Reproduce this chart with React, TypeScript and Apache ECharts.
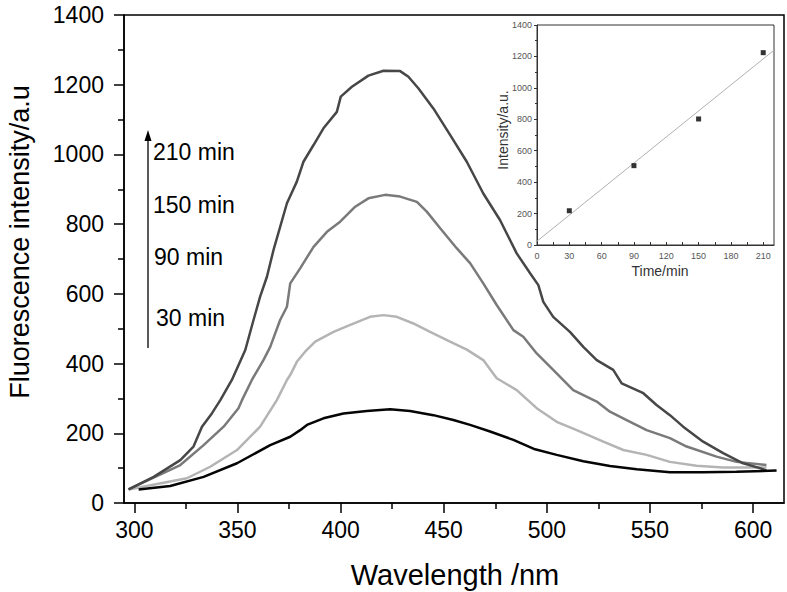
import React, { useEffect, useRef } from "react";
import * as echarts from "echarts";

const FONT = "'Liberation Sans', Arial, Helvetica, sans-serif";

// Main spectra (wavelength nm, intensity a.u.)
const x210 = [297.2, 309.4, 322.3, 328.7, 332.8, 337.6, 341.7, 347.3, 353.8, 357.8, 361.0, 364.3, 367.5, 374.0, 378.8, 382.0, 386.9, 391.7, 398.2, 400.1, 405.5, 413.5, 420.8, 428.9, 432.9, 437.7, 445.0, 453.1, 461.2, 469.2, 477.3, 485.4, 491.9, 495.9, 498.3, 503.1, 511.2, 517.7, 524.2, 532.2, 536.3, 546.8, 553.2, 559.7, 566.1, 575.8, 585.5, 595.2, 603.3, 606.5];
const y210 = [39, 75, 123, 162, 219, 257, 295, 353, 439, 525, 592, 649, 726, 860, 922, 979, 1027, 1075, 1122, 1166, 1194, 1226, 1240, 1239, 1223, 1190, 1132, 1056, 979, 888, 812, 716, 659, 625, 577, 534, 491, 448, 410, 382, 343, 315, 281, 252, 219, 176, 143, 114, 100, 93];

const x150 = [297.2, 322.3, 333.6, 343.3, 350.5, 352.2, 357.0, 362.6, 365.9, 370.7, 374.0, 375.6, 380.4, 386.9, 393.4, 399.8, 407.1, 413.5, 421.6, 428.9, 437.0, 441.8, 448.3, 456.3, 462.8, 469.2, 475.7, 483.8, 488.6, 495.1, 503.1, 512.8, 524.2, 530.6, 538.7, 548.4, 559.7, 567.8, 582.3, 592.0, 606.5];
const y150 = [39, 109, 166, 219, 272, 295, 353, 410, 448, 525, 563, 630, 673, 735, 778, 807, 850, 874, 884, 879, 864, 836, 788, 731, 688, 630, 568, 496, 477, 429, 382, 324, 291, 262, 238, 209, 186, 162, 133, 118, 109];

const x90 = [297.2, 302.9, 325.5, 336.8, 349.8, 361.0, 369.1, 374.0, 375.6, 378.8, 382.8, 387.7, 396.6, 404.7, 414.3, 420.8, 427.3, 435.3, 443.4, 453.1, 461.2, 469.2, 475.7, 485.4, 495.1, 504.8, 514.5, 527.4, 537.1, 548.4, 559.7, 572.6, 585.5, 606.5];
const y90 = [39, 45, 71, 104, 152, 219, 295, 353, 367, 405, 434, 463, 491, 511, 534, 539, 534, 515, 491, 463, 440, 410, 358, 324, 272, 233, 209, 176, 152, 138, 118, 107, 102, 102];

const x30 = [302.1, 317.4, 333.6, 349.8, 365.9, 375.6, 380.4, 383.7, 391.7, 401.4, 412.7, 424.0, 433.7, 445.0, 454.7, 462.8, 472.5, 483.8, 494.3, 504.8, 517.7, 530.6, 543.6, 559.7, 575.8, 591.9, 611.4];
const y30 = [39, 49, 75, 114, 166, 190, 209, 224, 243, 257, 264, 269, 264, 252, 238, 224, 205, 181, 154, 138, 120, 106, 97, 88, 88, 90, 93];

// Tick values
const xMajorTicks = [300, 350, 400, 450, 500, 550, 600];
const xMinorTicks = [325, 375, 425, 475, 525, 575];
const timeLabels = [0, 30, 60, 90, 120, 150, 180, 210];
const timeTicks = [0, 15, 30, 45, 60, 75, 90, 105, 120, 135, 150, 165, 180, 195, 210];

// Inset data
const insetTimes = [30, 90, 150, 210];
const insetIntensity = [218, 505, 802, 1224];

// Annotation labels
const timeAnnotations = ["210 min", "150 min", "90 min", "30 min"];

const zip = (xs: number[], ys: number[]) => xs.map((x, i) => [x, ys[i]]);
const plain = (v: number) => String(v);

function linearFit(xs: number[], ys: number[]) {
  const n = xs.length;
  const mx = xs.reduce((a, b) => a + b, 0) / n;
  const my = ys.reduce((a, b) => a + b, 0) / n;
  let sxy = 0, sxx = 0;
  for (let i = 0; i < n; i++) {
    sxy += (xs[i] - mx) * (ys[i] - my);
    sxx += (xs[i] - mx) * (xs[i] - mx);
  }
  const m = sxy / sxx;
  return { m, b: my - m * mx };
}

export default function App() {
  const ref = useRef<HTMLDivElement>(null);
  useEffect(() => {
    if (!ref.current) return;
    const chart = echarts.init(ref.current, undefined, { renderer: "svg" });
    const fit = linearFit(insetTimes, insetIntensity);
    const insetXMax = 220;
    const lineStyleFor = (color: string) => ({ color, width: 2.5 });
    const annY = [152, 205, 257, 318];
    const annX = [153, 153, 154, 156];

    chart.setOption({
      animation: false,
      textStyle: { fontFamily: FONT },
      grid: [
        { left: 124, top: 15, width: 660, height: 488, show: true, borderColor: "#000", borderWidth: 1.5, backgroundColor: "transparent" },
        { left: 537, top: 25, width: 237, height: 220, show: true, borderColor: "#333", borderWidth: 1, backgroundColor: "transparent" },
      ],
      xAxis: [
        {
          type: "value", gridIndex: 0, min: 295, max: 615,
          axisLine: { show: true, lineStyle: { color: "#000", width: 1.5 } },
          axisTick: { show: true, inside: false, length: 10, customValues: xMajorTicks, lineStyle: { color: "#000", width: 1.5 } },
          axisLabel: { show: true, customValues: xMajorTicks, formatter: plain, fontSize: 23, color: "#000", margin: 15, fontFamily: FONT },
          splitLine: { show: false },
        },
        {
          type: "value", gridIndex: 0, min: 295, max: 615, position: "bottom",
          axisLine: { show: false },
          axisTick: { show: true, inside: false, length: 6, customValues: xMinorTicks, lineStyle: { color: "#000", width: 1.5 } },
          axisLabel: { show: false },
          splitLine: { show: false },
        },
        {
          type: "value", gridIndex: 1, min: 0, max: insetXMax,
          axisLine: { show: true, lineStyle: { color: "#333", width: 1 } },
          axisTick: { show: true, inside: true, length: 3, customValues: timeTicks, lineStyle: { color: "#333", width: 1 } },
          axisLabel: { show: true, customValues: timeLabels, formatter: plain, fontSize: 9, color: "#555", margin: 6, fontFamily: FONT },
          splitLine: { show: false },
        },
      ],
      yAxis: [
        {
          type: "value", gridIndex: 0, min: 0, max: 1400, interval: 200,
          axisLine: { show: true, lineStyle: { color: "#000", width: 1.5 } },
          axisTick: { show: true, inside: false, length: 10, lineStyle: { color: "#000", width: 1.5 } },
          minorTick: { show: true, splitNumber: 2, length: 6, lineStyle: { color: "#000", width: 1.5 } },
          axisLabel: { formatter: plain, fontSize: 23, color: "#000", margin: 20, fontFamily: FONT },
          splitLine: { show: false },
        },
        {
          type: "value", gridIndex: 1, min: 0, max: 1400, interval: 200,
          axisLine: { show: true, lineStyle: { color: "#333", width: 1 } },
          axisTick: { show: true, inside: false, length: 3, lineStyle: { color: "#333", width: 1 } },
          minorTick: { show: true, splitNumber: 2, length: 2, lineStyle: { color: "#333", width: 1 } },
          axisLabel: { formatter: plain, fontSize: 9, color: "#555", margin: 5, fontFamily: FONT },
          splitLine: { show: false },
        },
      ],
      series: [
        { name: "30 min", type: "line", xAxisIndex: 0, yAxisIndex: 0, data: zip(x30, y30), showSymbol: false, lineStyle: lineStyleFor("#050505"), z: 4 },
        { name: "90 min", type: "line", xAxisIndex: 0, yAxisIndex: 0, data: zip(x90, y90), showSymbol: false, lineStyle: lineStyleFor("#b4b4b4"), z: 3 },
        { name: "150 min", type: "line", xAxisIndex: 0, yAxisIndex: 0, data: zip(x150, y150), showSymbol: false, lineStyle: lineStyleFor("#7a7a7a"), z: 3 },
        { name: "210 min", type: "line", xAxisIndex: 0, yAxisIndex: 0, data: zip(x210, y210), showSymbol: false, lineStyle: lineStyleFor("#474747"), z: 3 },
        {
          name: "fit", type: "line", xAxisIndex: 2, yAxisIndex: 1,
          data: [[0, fit.b], [insetXMax, fit.b + fit.m * insetXMax]],
          showSymbol: false, lineStyle: { color: "#b0b0b0", width: 1 },
        },
        {
          name: "intensity", type: "scatter", xAxisIndex: 2, yAxisIndex: 1,
          data: zip(insetTimes, insetIntensity), symbol: "rect", symbolSize: 5,
          itemStyle: { color: "#000" }, z: 5,
        },
      ],
      graphic: [
        { type: "text", x: 20, y: 242, rotation: Math.PI / 2, style: { text: "Fluorescence intensity/a.u", fontSize: 27, fill: "#000", align: "center", verticalAlign: "middle", fontFamily: FONT } },
        { type: "text", x: 455, y: 575, style: { text: "Wavelength /nm", fontSize: 29, fill: "#000", align: "center", verticalAlign: "middle", fontFamily: FONT } },
        { type: "text", x: 503, y: 130, rotation: Math.PI / 2, style: { text: "Intensity/a.u.", fontSize: 14, fill: "#333", align: "center", verticalAlign: "middle", fontFamily: FONT } },
        { type: "text", x: 660, y: 271, style: { text: "Time/min", fontSize: 14, fill: "#333", align: "center", verticalAlign: "middle", fontFamily: FONT } },
        { type: "line", shape: { x1: 148, y1: 348, x2: 148, y2: 138 }, style: { stroke: "#000", lineWidth: 1.3 } },
        { type: "polygon", shape: { points: [[148, 130], [144.5, 141], [151.5, 141]] }, style: { fill: "#000" } },
        ...timeAnnotations.map((t, i) => ({
          type: "text", x: annX[i], y: annY[i],
          style: { text: t, fontSize: 23, fill: "#000", align: "left", verticalAlign: "middle", fontFamily: FONT },
        })),
      ],
    });
    return () => chart.dispose();
  }, []);
  return <div ref={ref} style={{ position: "absolute", left: 0, top: 0, width: 787, height: 592 }} />;
}
